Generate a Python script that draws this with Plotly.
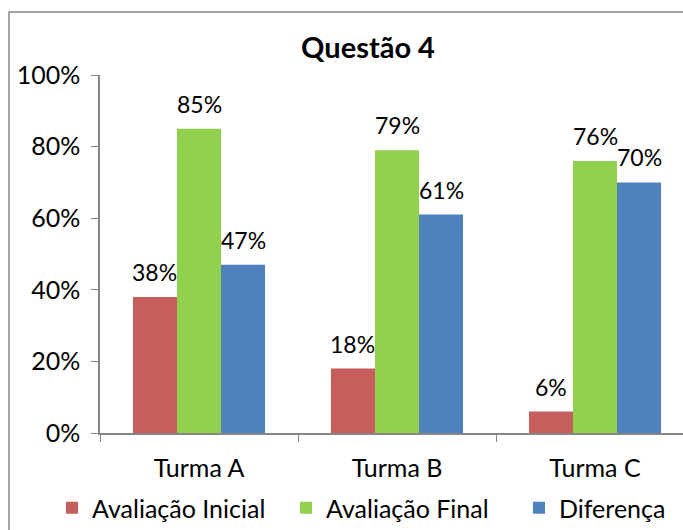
import plotly.graph_objects as go

# Question 4 results per class
turmas = ["Turma A", "Turma B", "Turma C"]
avaliacao_inicial = [0.38, 0.18, 0.06]
avaliacao_final = [0.85, 0.79, 0.76]
diferenca = [0.47, 0.61, 0.70]
y_ticks = [0, 0.2, 0.4, 0.6, 0.8, 1.0]

series = [
    ("Avaliação Inicial", avaliacao_inicial, "#C65F5C"),
    ("Avaliação Final", avaliacao_final, "#92D050"),
    ("Diferença", diferenca, "#4F81BD"),
]
legend_x = [52, 286, 519]  # left edge of each legend entry, px

FONT = "Lato"
BARGAP = 0.333
bar_w = (1 - BARGAP) / len(series)  # width of one bar in category units

fig = go.Figure()
annotations = []
for j, (name, vals, color) in enumerate(series):
    lg = "legend" if j == 0 else f"legend{j + 1}"
    fig.add_trace(go.Bar(
        name=name, x=turmas, y=vals, legend=lg, showlegend=True,
        marker=dict(color=color, line=dict(width=0)),
    ))
    # value labels above each bar
    for i, v in enumerate(vals):
        annotations.append(dict(
            x=i + (j - (len(series) - 1) / 2) * bar_w, y=v, xref="x", yref="y",
            text=f"{round(v * 100)}%", showarrow=False, yanchor="bottom", yshift=9,
            font=dict(family=FONT, size=23, color="black"),
        ))

legend_common = dict(orientation="h", xref="container", xanchor="left",
                     y=1 - 508/530, yref="container", yanchor="middle",
                     font=dict(family=FONT, size=25, color="black"),
                     bgcolor="rgba(0,0,0,0)", visible=True)

fig.update_layout(
    width=683, height=530, showlegend=True,
    margin=dict(l=100, r=0, t=75, b=97),
    paper_bgcolor="white", plot_bgcolor="white",
    barmode="group", bargap=BARGAP, bargroupgap=0,
    font=dict(family=FONT, size=25, color="black"),
    title=dict(text="<b>Questão 4</b>", x=368/683, xanchor="center", xref="container",
               y=1 - 48/530, yanchor="middle", yref="container",
               font=dict(family=FONT, size=29, color="black")),
    xaxis=dict(range=[-0.5, -0.5 + 583/198], showline=True, linecolor="#868686", linewidth=1.5,
               ticks="outside", tickson="boundaries", ticklen=7, tickcolor="#868686",
               showgrid=False, ticklabelstandoff=12),
    yaxis=dict(range=[0, 1], tickvals=y_ticks, tickformat=".0%", showline=True,
               linecolor="#868686", linewidth=1.5, ticks="outside", ticklen=7,
               tickcolor="#868686", showgrid=False, zeroline=False, ticklabelstandoff=6),
    legend=dict(x=legend_x[0] / 683, **legend_common),
    legend2=dict(x=legend_x[1] / 683, **legend_common),
    legend3=dict(x=legend_x[2] / 683, **legend_common),
    annotations=annotations,
    shapes=[dict(type="rect", xref="paper", yref="paper",
                 x0=(9 - 100)/583, x1=1.2, y0=-1, y1=1 + (75 - 12)/358,
                 line=dict(color="#868686", width=1.5), fillcolor="rgba(0,0,0,0)")],
)

fig.write_html("out.html")
